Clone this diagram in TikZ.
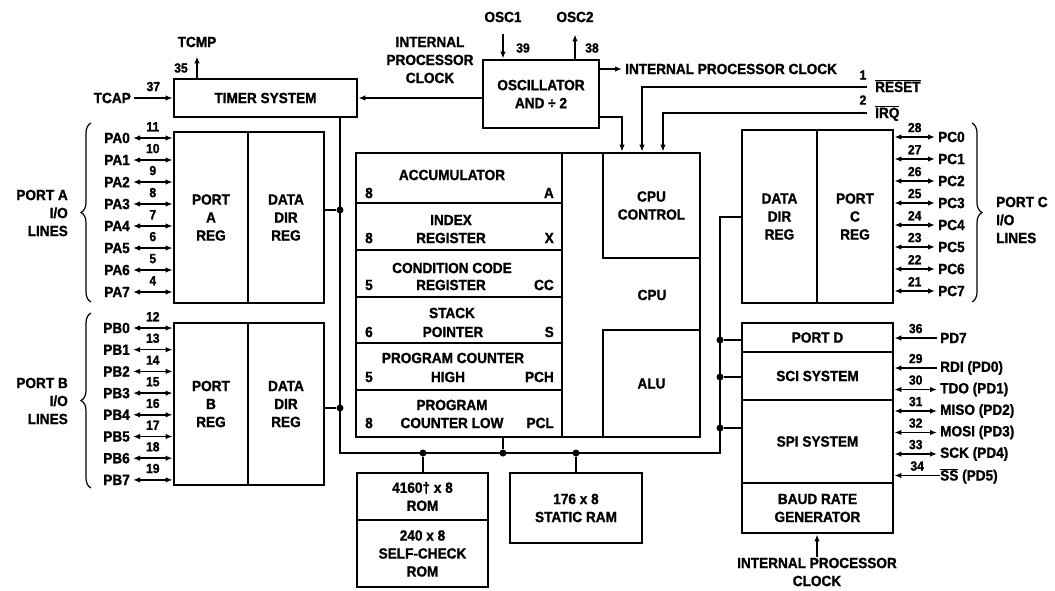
\documentclass[tikz,border=0pt]{standalone}
\usepackage{fontspec}
\setmainfont{Liberation Sans}[BoldFeatures={FakeBold=1.2,FakeStretch=0.92}]
\usetikzlibrary{arrows.meta,decorations.pathreplacing}
\newcommand{\ovl}[1]{$\overline{\hbox{#1}}$}
\begin{document}
\begin{tikzpicture}[x=1pt,y=-1pt,
  font=\bfseries\fontsize{14.8}{18}\selectfont,
  blk/.style={draw, line width=2.8pt, inner sep=0pt, align=center},
  txt/.style={inner sep=0pt, align=center},
  num/.style={font=\bfseries\fontsize{13.2}{14}\selectfont, inner sep=1pt},
  lbl/.style={inner sep=3pt},
  wire/.style={line width=1.5pt},
  arr/.style={wire, -{Latex[length=7pt,width=5.5pt]}},
  biarr/.style={wire, {Latex[length=7pt,width=5.5pt]}-{Latex[length=7pt,width=5.5pt]}},
  dot/.style={circle, fill, inner sep=0pt, minimum size=7pt},
  brc/.style={line width=1.2pt, decorate, decoration={brace, amplitude=10pt}},
]
\useasboundingbox (0,0) rectangle (1055,590);

% ---------- top blocks ----------
\node[blk, minimum width=183, minimum height=38] (timer) at (265.5,98) {TIMER SYSTEM};
\node[blk, minimum width=116, minimum height=68] (osc) at (541,94) {OSCILLATOR\\AND ÷ 2};

\node[lbl, anchor=east] (tcap) at (134,98) {TCAP};
\draw[arr] (tcap.east) -- (tcap.east -| timer.west) node[num, midway, above=5pt] (n37) {37};

\node[txt] (tcmp) at (197,42) {TCMP};
\draw[arr] (timer.north -| tcmp.south) -- ([yshift=-9pt]tcmp.south);
\node[num] (n35) at (181,68) {35};

\node[txt] (ipcA) at (430,60) {INTERNAL\\PROCESSOR\\CLOCK};
\draw[arr] (timer.east -| osc.west) -- (timer.east);

\node[txt] (osc1) at (503,17) {OSC1};
\draw[arr] ([yshift=-12pt]osc1.south) -- (osc1.south |- osc.north);
\node[num] (n39) at (523,48) {39};
\node[txt] (osc2) at (575,17) {OSC2};
\draw[arr] (osc2.south |- osc.north) -- ([yshift=-12pt]osc2.south);
\node[num] (n38) at (592,48) {38};

\node[lbl, anchor=west] (ipcB) at (622,69) {INTERNAL PROCESSOR CLOCK};
\draw[arr] (osc.east |- ipcB.west) -- (ipcB.west);

% ---------- CPU ----------
\node[blk, minimum width=344, minimum height=284] (cpu) at (528,295) {};
\node[blk, minimum width=206, minimum height=50] (acc) at (459,178) {};
\node[blk, minimum width=206, minimum height=47] (idx) at (459,226.5) {};
\node[blk, minimum width=206, minimum height=47] (ccr) at (459,273.5) {};
\node[blk, minimum width=206, minimum height=46] (sp)  at (459,320) {};
\node[blk, minimum width=206, minimum height=47] (pch) at (459,366.5) {};
\node[blk, minimum width=206, minimum height=47] (pcl) at (459,413.5) {};
\node[blk, minimum width=97, minimum height=105] (cpuctl) at (651.5,205.5) {CPU\\CONTROL};
\node[blk, minimum width=97, minimum height=107] (alu) at (651.5,383.5) {ALU};
\node[txt] (cpulbl) at (652,295) {CPU};

\node[txt] (accT) at (452,175) {ACCUMULATOR};
\node[txt, anchor=west] (accL) at (365,193) {8};
\node[txt, anchor=east] (accR) at (554,193) {A};
\node[txt] (idxT) at (451,220) {INDEX};
\node[txt] (idxM) at (451,238) {REGISTER};
\node[txt, anchor=west] (idxL) at (365,238) {8};
\node[txt, anchor=east] (idxR) at (554,238) {X};
\node[txt] (ccrT) at (452,268) {CONDITION CODE};
\node[txt] (ccrM) at (451,285) {REGISTER};
\node[txt, anchor=west] (ccrL) at (365,285) {5};
\node[txt, anchor=east] (ccrR) at (554,285) {CC};
\node[txt] (spT) at (452,313) {STACK};
\node[txt] (spM) at (453,332) {POINTER};
\node[txt, anchor=west] (spL) at (365,332) {6};
\node[txt, anchor=east] (spR) at (554,332) {S};
\node[txt] (pchT) at (453,358) {PROGRAM COUNTER};
\node[txt] (pchM) at (448,377) {HIGH};
\node[txt, anchor=west] (pchL) at (365,377) {5};
\node[txt, anchor=east] (pchR) at (554,377) {PCH};
\node[txt] (pclT) at (452,405) {PROGRAM};
\node[txt] (pclM) at (452,423) {COUNTER LOW};
\node[txt, anchor=west] (pclL) at (365,423) {8};
\node[txt, anchor=east] (pclR) at (554,423) {PCL};

% clock / reset / irq into CPU control
\draw[arr] (osc.east |- 0,117) -| (cpu.north -| 622,0);
\coordinate (resetEnd) at (867,87);
\coordinate (irqEnd) at (867,113);
\draw[arr] (resetEnd) -| (cpu.north -| 642,0);
\draw[arr] (irqEnd) -| (cpu.north -| 663,0);
\node[num] (n1) at (863,75) {1};
\node[num] (n2) at (863,100) {2};
\node[txt, anchor=base west] (reset) at (875,92) {\ovl{RESET}};
\node[txt, anchor=base west] (irq) at (875,118) {\ovl{IRQ}};

% ---------- Port A ----------
\node[blk, minimum width=74, minimum height=171] (paReg) at (211,217.5) {PORT\\A\\REG};
\node[blk, minimum width=76, minimum height=171] (paDdr) at (286,217.5) {DATA\\DIR\\REG};
\foreach \i/\n in {0/11,1/10,2/9,3/8,4/7,5/6,6/5,7/4} {
  \pgfmathsetmacro\yy{138+22*\i}
  \node[lbl, anchor=east] (pa\i) at (133,\yy) {PA\i};
  \draw[biarr] (pa\i.east) -- (pa\i.east -| paReg.west) node[num, midway, above=5pt] (pan\i) {\n};
}
\draw[brc] (91,302) -- (91,123);
\node[txt, align=right, anchor=east] (portAlbl) at (68,213) {PORT A\\I/O\\LINES};

% ---------- Port B ----------
\node[blk, minimum width=74, minimum height=162] (pbReg) at (211,404) {PORT\\B\\REG};
\node[blk, minimum width=76, minimum height=162] (pbDdr) at (286,404) {DATA\\DIR\\REG};
\foreach \i/\n in {0/12,1/13,2/14,3/15,4/16,5/17,6/18,7/19} {
  \pgfmathsetmacro\yy{328+21.7*\i}
  \node[lbl, anchor=east] (pb\i) at (133,\yy) {PB\i};
  \draw[biarr] (pb\i.east) -- (pb\i.east -| pbReg.west) node[num, midway, above=5pt] (pbn\i) {\n};
}
\draw[brc] (91,488) -- (91,313);
\node[txt, align=right, anchor=east] (portBlbl) at (68,401) {PORT B\\I/O\\LINES};

% ---------- Port C ----------
\node[blk, minimum width=75, minimum height=173] (pcDdr) at (779.5,216.5) {DATA\\DIR\\REG};
\node[blk, minimum width=76, minimum height=173] (pcReg) at (855,216.5) {PORT\\C\\REG};
\foreach \i/\n in {0/28,1/27,2/26,3/25,4/24,5/23,6/22,7/21} {
  \pgfmathsetmacro\yy{137+22*\i}
  \node[lbl, anchor=west] (pc\i) at (935,\yy) {PC\i};
  \draw[biarr] (pc\i.west -| pcReg.east) -- (pc\i.west) node[num, midway, above=3pt] (pcn\i) {\n};
}
\draw[brc] (972,123) -- (972,302);
\node[txt, align=left, anchor=west] (portClbl) at (996,220) {PORT C\\I/O\\LINES};

% ---------- Port D / SCI / SPI ----------
\node[blk, minimum width=151, minimum height=29] (portD) at (817.5,337.5) {PORT D};
\node[blk, minimum width=151, minimum height=48] (sci) at (817.5,376) {SCI SYSTEM};
\node[blk, minimum width=151, minimum height=83] (spi) at (817.5,441.5) {SPI SYSTEM};
\node[blk, minimum width=151, minimum height=50] (baud) at (817.5,508) {BAUD RATE\\GENERATOR};

\node[lbl, anchor=west] (pd7) at (937,338) {PD7};
\draw[arr] (pd7.west) -- (pd7.west -| portD.east) node[num, midway, above=3pt] (n36) {36};
\node[lbl, anchor=west] (rdi) at (937,368) {RDI (PD0)};
\draw[arr] (rdi.west) -- (rdi.west -| sci.east) node[num, midway, above=3pt] (n29) {29};
\node[lbl, anchor=west] (tdo) at (937,389.5) {TDO (PD1)};
\draw[biarr] (tdo.west -| sci.east) -- (tdo.west) node[num, midway, above=3pt] (n30) {30};
\node[lbl, anchor=west] (miso) at (937,411) {MISO (PD2)};
\draw[biarr] (miso.west -| spi.east) -- (miso.west) node[num, midway, above=3pt] (n31) {31};
\node[lbl, anchor=west] (mosi) at (937,432.5) {MOSI (PD3)};
\draw[biarr] (mosi.west -| spi.east) -- (mosi.west) node[num, midway, above=3pt] (n32) {32};
\node[lbl, anchor=west] (sck) at (937,454) {SCK (PD4)};
\draw[biarr] (sck.west -| spi.east) -- (sck.west) node[num, midway, above=3pt] (n33) {33};
\coordinate (ssEnd) at (940,475.5);
\draw[arr] (ssEnd) -- (ssEnd -| spi.east) node[num, midway, above=3pt] (n34) {34};
\node[txt, anchor=base west] (ss) at (940,480.5) {\ovl{SS} (PD5)};

\node[txt] (ipcC) at (817,572) {INTERNAL PROCESSOR\\CLOCK};
\draw[arr] ([yshift=1pt]ipcC.north) -- (ipcC.north |- baud.south);

% ---------- memory ----------
\node[blk, minimum width=131, minimum height=47] (rom) at (422.5,496.5) {4160† x 8\\ROM};
\node[blk, minimum width=131, minimum height=67] (scrom) at (422.5,553.5) {240 x 8\\SELF-CHECK\\ROM};
\node[blk, minimum width=132, minimum height=70] (ram) at (576,508) {176 x 8\\STATIC RAM};

% ---------- bus ----------
\node[dot] (dA) at (340,210) {};
\node[dot] (dB) at (340,408) {};
\node[dot] (dRom) at (423,453) {};
\node[dot] (dCpu) at (503,453) {};
\node[dot] (dRam) at (576,453) {};
\node[dot] (dPD) at (720,340) {};
\node[dot] (dSci) at (720,377) {};
\node[dot] (dSpi) at (720,428) {};
\coordinate (bl) at (340,453);
\coordinate (br) at (720,453);
\coordinate (rt) at (720,217);
\draw[wire] (timer.south -| dA) -- (bl) -- (br) -- (rt) -- (rt -| pcDdr.west);
\draw[wire] (paDdr.east |- dA) -- (dA);
\draw[wire] (pbDdr.east |- dB) -- (dB);
\draw[wire] (dRom) -- (dRom |- rom.north);
\draw[wire] (dCpu |- cpu.south) -- (dCpu);
\draw[wire] (dRam) -- (dRam |- ram.north);
\draw[wire] (dPD) -- (dPD -| portD.west);
\draw[wire] (dSci) -- (dSci -| sci.west);
\draw[wire] (dSpi) -- (dSpi -| spi.west);
\end{tikzpicture}
\end{document}
